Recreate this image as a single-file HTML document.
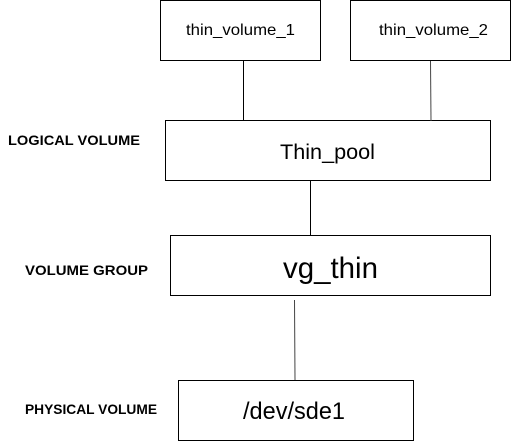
<!DOCTYPE html>
<html><head><style>html,body{margin:0;padding:0;background:#fff;}</style></head><body>
<svg width="511" height="441" xmlns="http://www.w3.org/2000/svg" style="display:block">
<g fill="none" stroke="#000" stroke-width="1">
<rect x="160.5" y="0.5" width="160" height="60"/>
<rect x="350.5" y="0.5" width="160" height="60"/>
<rect x="165.5" y="120.5" width="325" height="60"/>
<rect x="170.5" y="235.5" width="320" height="60"/>
<rect x="178.5" y="380.5" width="235" height="60"/>
<line x1="243.5" y1="61" x2="243.5" y2="120"/>
<line x1="430.5" y1="61" x2="431" y2="121" stroke="#444"/>
<line x1="310.5" y1="181" x2="310.5" y2="235"/>
<line x1="294.5" y1="300" x2="295" y2="380" stroke="#444"/>
</g>
<g font-family="Liberation Sans, sans-serif" fill="#000">
<text x="186" y="35" font-size="16" textLength="109" lengthAdjust="spacingAndGlyphs">thin_volume_1</text>
<text x="379" y="35" font-size="16" textLength="109" lengthAdjust="spacingAndGlyphs">thin_volume_2</text>
<text x="280" y="159" font-size="21.5" textLength="95" lengthAdjust="spacingAndGlyphs">Thin_pool</text>
<text x="283" y="278" font-size="29.5" textLength="95" lengthAdjust="spacingAndGlyphs">vg_thin</text>
<text x="243" y="419" font-size="24" textLength="102" lengthAdjust="spacingAndGlyphs">/dev/sde1</text>
<g font-weight="bold" font-size="13.5">
<text x="8" y="145" textLength="132" lengthAdjust="spacingAndGlyphs">LOGICAL VOLUME</text>
<text x="25" y="275" textLength="123" lengthAdjust="spacingAndGlyphs">VOLUME GROUP</text>
<text x="25" y="414" textLength="132" lengthAdjust="spacingAndGlyphs">PHYSICAL VOLUME</text>
</g>
</g>
</svg>
</body></html>
